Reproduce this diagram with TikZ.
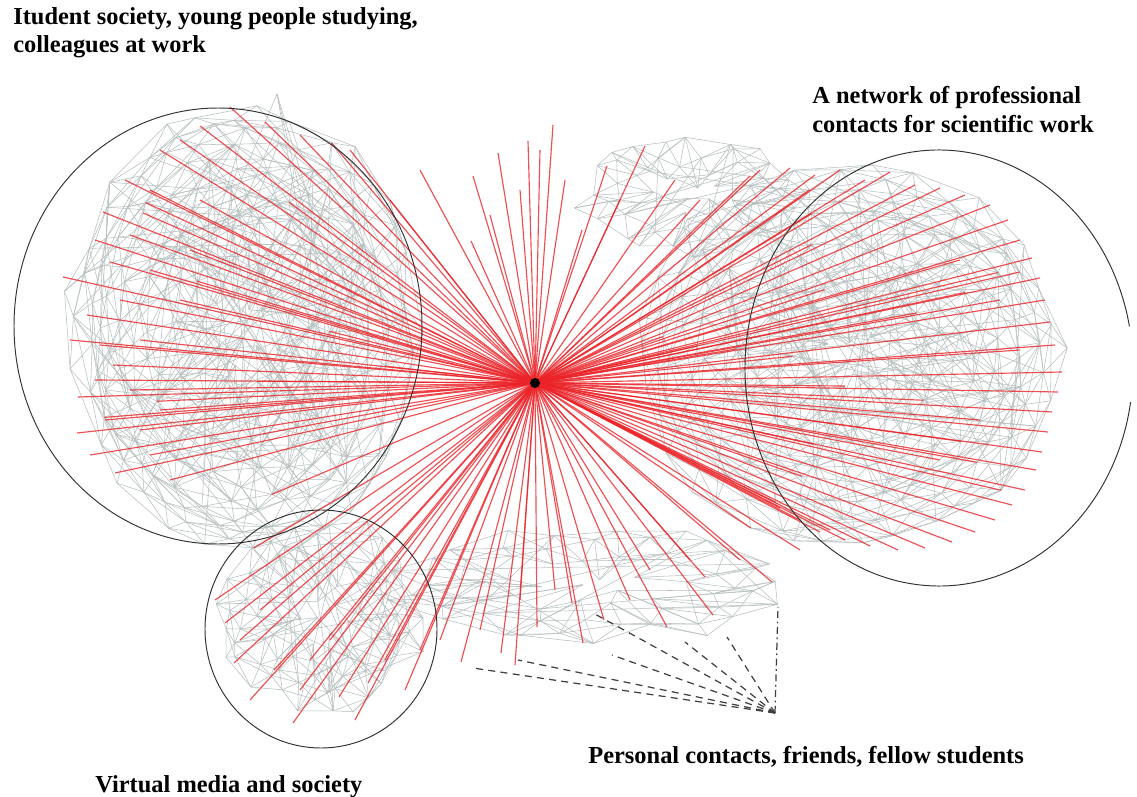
\documentclass[tikz,border=0pt]{standalone}
\usepackage{fontspec}
\setmainfont{Liberation Serif}
\definecolor{meshgray}{RGB}{182,190,190}
\definecolor{tiered}{RGB}{235,35,40}
% Mesh of one community: sunflower-spread points, joined to their spiral neighbours
% #1 name, #2 count, #3 cx, #4 cy, #5 rx, #6 ry, #7 extra random chords
\newcommand\meshcluster[7]{%
  \foreach \i in {1,...,#2}{%
    \pgfmathsetmacro\mrad{sqrt((\i-0.5)/#2)}%
    \pgfmathsetmacro\mang{360*(\i*0.381966-floor(\i*0.381966))}%
    \pgfmathsetmacro\mpx{#3+#5*\mrad*cos(\mang)+7*rand}%
    \pgfmathsetmacro\mpy{#4+#6*\mrad*sin(\mang)+7*rand}%
    \coordinate (#1\i) at (\mpx,\mpy);
  }%
  \foreach \i in {1,...,#2}{%
    \foreach \mk in {8,13,21,34}{%
      \pgfmathtruncatemacro\mj{\i+\mk}%
      \ifnum\mj>#2\relax\else\draw[meshline] (#1\i) -- (#1\mj);\fi
    }%
  }%
  \foreach \t in {1,...,#7}{%
    \pgfmathtruncatemacro\ua{random(1,#2)}%
    \pgfmathtruncatemacro\ub{random(1,#2)}%
    \draw[meshline] (#1\ua) -- (#1\ub);
  }%
}
\begin{document}
\begin{tikzpicture}[x=0.02cm,y=-0.02cm,
  meshline/.style={draw=meshgray, line width=0.3pt},
  redline/.style={draw=tiered, line width=0.65pt, opacity=0.8},
  ring/.style={draw=black!80, line width=0.55pt},
  dashlink/.style={draw=black!75, line width=0.7pt, dash pattern=on 4pt off 3pt},
  dashdotlink/.style={draw=black!75, line width=0.7pt, dash pattern=on 4pt off 2pt on 1pt off 2pt},
  caption/.style={font=\bfseries\fontsize{13.9}{16}\selectfont, anchor=base west, inner sep=0pt}]
\fill[white] (0,0) rectangle (1137,797);
\useasboundingbox (0,0) rectangle (1137,797);
\pgfmathsetseed{11}

% grey contact meshes
\meshcluster{L}{240}{245}{330}{178}{228}{150}
\meshcluster{R}{240}{850}{355}{215}{195}{150}
\meshcluster{T}{55}{690}{195}{120}{65}{20}
\meshcluster{B}{100}{320}{615}{105}{100}{40}
\meshcluster{M}{65}{590}{585}{210}{60}{20}
% peak of the left community
\coordinate (lpeak) at (277,94);
\foreach \i in {200,215,228,236}{\draw[meshline] (lpeak) -- (L\i);}

% central person and the red ties
\coordinate (hub) at (535,383);
\foreach \ex/\ey [count=\n] in {230/107,200/126,265/122,180/140,160/150,143/213,103/212,125/180,150/190,95/240,130/235,63/277,110/262,150/270,87/315,120/300,70/340,100/345,113/365,140/340,78/397,95/380,130/390,77/433,105/420,140/430,115/473,90/455,150/455,170/480,160/410,180/300,190/250,200/200,300/135,350/150,
  225/623,234/663,274/670,293/723,339/697,368/683,385/660,250/700,240/640,260/610,310/660,330/640,355/720,300/690,405/690,420/650,215/600,
  461/662,501/653,537/627,583/643,572/603,604/620,667/627,713/615,772/582,705/577,440/640,480/630,520/600,555/590,630/600,650/570,690/560,740/560,800/550,830/530,515/665,
  553/125,528/141,498/153,473/176,471/241,582/230,607/166,645/146,675/180,750/176,540/150,565/180,520/190,490/215,620/200,700/200,420/170,390/200,
  760/170,790/168,815/175,840/170,865/180,890/172,915/185,940/188,965/195,990/205,1008/220,1020/240,1032/258,1040/278,1045/300,1050/322,1055/345,1062/372,1058/392,1052/412,1048/432,1042/452,1036/470,1025/490,1012/505,995/520,975/532,952/542,925/548,898/550,870/546,845/540,820/532,800/520,780/508,1000/300,980/420,960/260,940/460,1020/350}
{
  \coordinate (e\n) at (\ex,\ey);
  \draw[redline] (hub) -- (e\n);
}
% shorter ties into the two large communities
\foreach \i in {6,17,28,39,50,61,72,83,94,105,116,127,138,149,160,171,182,193,204,215,226}{
  \draw[redline] (hub) -- (R\i);
}
\foreach \i in {11,33,55,77,99,121,143,165,187,209,231}{
  \draw[redline] (hub) -- (L\i);
}

% community boundaries
\draw[ring] (218,326) ellipse [x radius=204, y radius=218];
\draw[ring] (321,629) ellipse [x radius=116, y radius=119];
\coordinate (rc) at (939,368);
\draw[ring] (rc) ++(9:194 and 218) arc [start angle=9, end angle=349, x radius=194, y radius=218];

% personal contacts, dashed
\coordinate (pc) at (775,713);
\foreach \dx/\dy [count=\n] in {473/668,518/660,593/613,612/655,685/642,727/637}
{
  \coordinate (d\n) at (\dx,\dy);
  \draw[dashlink] (pc) -- (d\n);
}
\coordinate (d7) at (778,607);
\draw[dashdotlink] (pc) -- (d7);

\node[circle, fill=black, inner sep=0pt, minimum size=0.2cm] (hubdot) at (hub) {};

% captions
\node[caption] (c1a) at (13,25) {Itudent society, young people studying,};
\node[caption] (c1b) at (13,53) {colleagues at work};
\node[caption] (c2a) at (812,104) {A network of professional};
\node[caption] (c2b) at (812,133) {contacts for scientific work};
\node[caption] (c3) at (95,792) {Virtual media and society};
\node[caption] (c4) at (588,763) {Personal contacts, friends, fellow students};
\end{tikzpicture}
\end{document}
